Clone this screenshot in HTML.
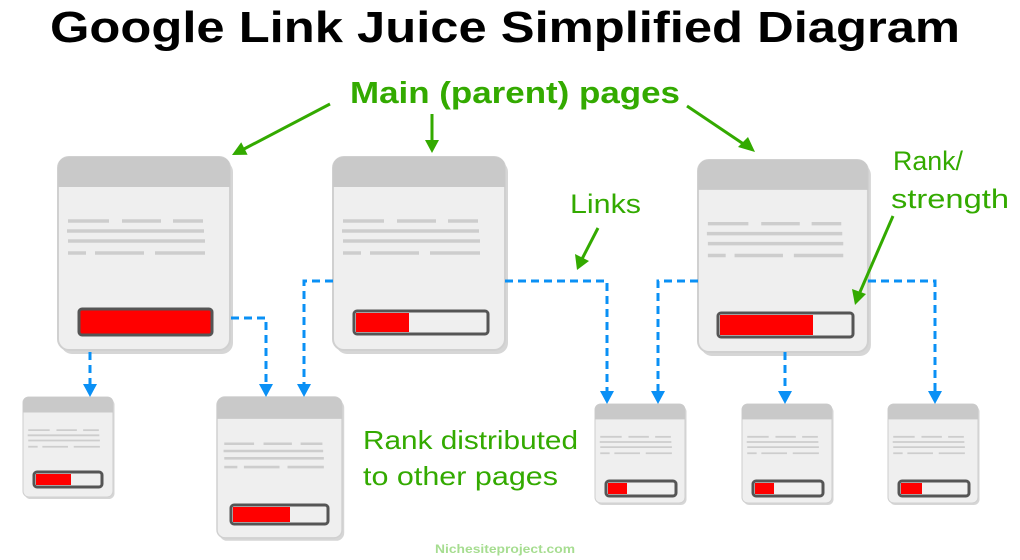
<!DOCTYPE html>
<html><head><meta charset="utf-8"><style>
html,body{margin:0;padding:0;background:#fff;}
svg{display:block;}
text{font-family:"Liberation Sans",sans-serif;font-weight:bold;}
</style></head><body>
<svg width="1020" height="560" viewBox="0 0 1020 560" xmlns="http://www.w3.org/2000/svg">
<defs>
<g id="pg">
  <rect x="3" y="4" width="172" height="193" rx="11" fill="#bbb" opacity="0.6"/>
  <rect x="0" y="0" width="172" height="193" rx="11" fill="#efefef" stroke="#d0d0d0" stroke-width="2"/>
  <path d="M0 11 Q0 0 11 0 H161 Q172 0 172 11 V30 H0 Z" fill="#c9c9c9"/>
  <g stroke="#cdcdcd" stroke-width="3.5">
    <line x1="10" y1="64" x2="51" y2="64"/><line x1="64" y1="64" x2="103" y2="64"/><line x1="115" y1="64" x2="145" y2="64"/>
    <line x1="9" y1="74" x2="146" y2="74"/>
    <line x1="10" y1="84" x2="147" y2="84"/>
    <line x1="10" y1="96" x2="28" y2="96"/><line x1="37" y1="96" x2="86" y2="96"/><line x1="97" y1="96" x2="147" y2="96"/>
  </g>
</g>
</defs>

<text x="50" y="42" font-size="44" textLength="910" lengthAdjust="spacingAndGlyphs" fill="#000">Google Link Juice Simplified Diagram</text>

<use href="#pg" transform="translate(58,157)"/>
<use href="#pg" transform="translate(333,157)"/>
<use href="#pg" transform="translate(698,160) scale(0.988,0.995)"/>
<use href="#pg" transform="translate(23,397) scale(0.523,0.518)"/>
<use href="#pg" transform="translate(217,397) scale(0.727,0.73)"/>
<use href="#pg" transform="translate(595,404) scale(0.523,0.513)"/>
<use href="#pg" transform="translate(742,404) scale(0.523,0.513)"/>
<use href="#pg" transform="translate(888,404) scale(0.523,0.513)"/>

<g stroke="#555" stroke-width="3">
<rect x="79" y="309" width="133" height="26" rx="3" fill="#f00"/>
<rect x="354" y="311" width="134" height="23" rx="3" fill="#efefef"/>
<rect x="718" y="313" width="135" height="24" rx="3" fill="#efefef"/>
<rect x="34" y="472" width="68" height="15" rx="3" fill="#efefef"/>
<rect x="231" y="505" width="97" height="19" rx="3" fill="#efefef"/>
<rect x="606" y="481" width="70" height="15" rx="3" fill="#efefef"/>
<rect x="753" y="481" width="70" height="15" rx="3" fill="#efefef"/>
<rect x="899" y="481" width="70" height="15" rx="3" fill="#efefef"/>
</g>
<g fill="#f00">
<rect x="356" y="313" width="53" height="19"/>
<rect x="720" y="315" width="93" height="20"/>
<rect x="36" y="474" width="35" height="11"/>
<rect x="233" y="507" width="57" height="15"/>
<rect x="608" y="483" width="19" height="11"/>
<rect x="755" y="483" width="19" height="11"/>
<rect x="901" y="483" width="21" height="11"/>
</g>

<g fill="none" stroke="#0a90f5" stroke-width="3" stroke-dasharray="8,5">
<path d="M90 352 V386"/>
<path d="M231 318 H266 V386"/>
<path d="M333 281 H304 V386"/>
<path d="M505 281 H607 V393"/>
<path d="M698 281 H658 V393"/>
<path d="M785 352 V393"/>
<path d="M868 281 H935 V393"/>
</g>
<g fill="#0a90f5">
<path d="M83 384 H97 L90 397 Z"/>
<path d="M259 384 H273 L266 397 Z"/>
<path d="M297 384 H311 L304 397 Z"/>
<path d="M600 391 H614 L607 404 Z"/>
<path d="M651 391 H665 L658 404 Z"/>
<path d="M778 391 H792 L785 404 Z"/>
<path d="M928 391 H942 L935 404 Z"/>
</g>

<g fill="#33aa00">
<text x="350" y="103" font-size="31" textLength="330" lengthAdjust="spacingAndGlyphs">Main (parent) pages</text>
<text x="570" y="213" font-size="27" style="font-weight:normal" textLength="71" lengthAdjust="spacingAndGlyphs">Links</text>
<text x="893" y="170" font-size="27" style="font-weight:normal" textLength="70" lengthAdjust="spacingAndGlyphs">Rank/</text>
<text x="891" y="208" font-size="27" style="font-weight:normal" textLength="118" lengthAdjust="spacingAndGlyphs">strength</text>
<text x="363" y="449" font-size="26" style="font-weight:normal" textLength="215" lengthAdjust="spacingAndGlyphs">Rank distributed</text>
<text x="363" y="485" font-size="26" style="font-weight:normal" textLength="195" lengthAdjust="spacingAndGlyphs">to other pages</text>
</g>
<text x="435" y="553" font-size="12" fill="#a6dd90" textLength="140" lengthAdjust="spacingAndGlyphs">Nichesiteproject.com</text>

<g stroke="#33aa00" stroke-width="3" fill="none">
<line x1="330" y1="104" x2="244" y2="149"/>
<line x1="432" y1="114" x2="432" y2="142"/>
<line x1="687" y1="106" x2="745" y2="145"/>
<line x1="598" y1="228" x2="582" y2="259"/>
<line x1="893" y1="216" x2="860" y2="292"/>
</g>
<g fill="#33aa00">
<path d="M232 155 L247.6 154.7 L241.2 142.3 Z"/>
<path d="M425 140 H439 L432 153 Z"/>
<path d="M755 152 L738 147 L748 137 Z"/>
<path d="M577 270 L575 254 L589 261 Z"/>
<path d="M855 305 L852 289 L866 294 Z"/>
</g>
</svg>
</body></html>
